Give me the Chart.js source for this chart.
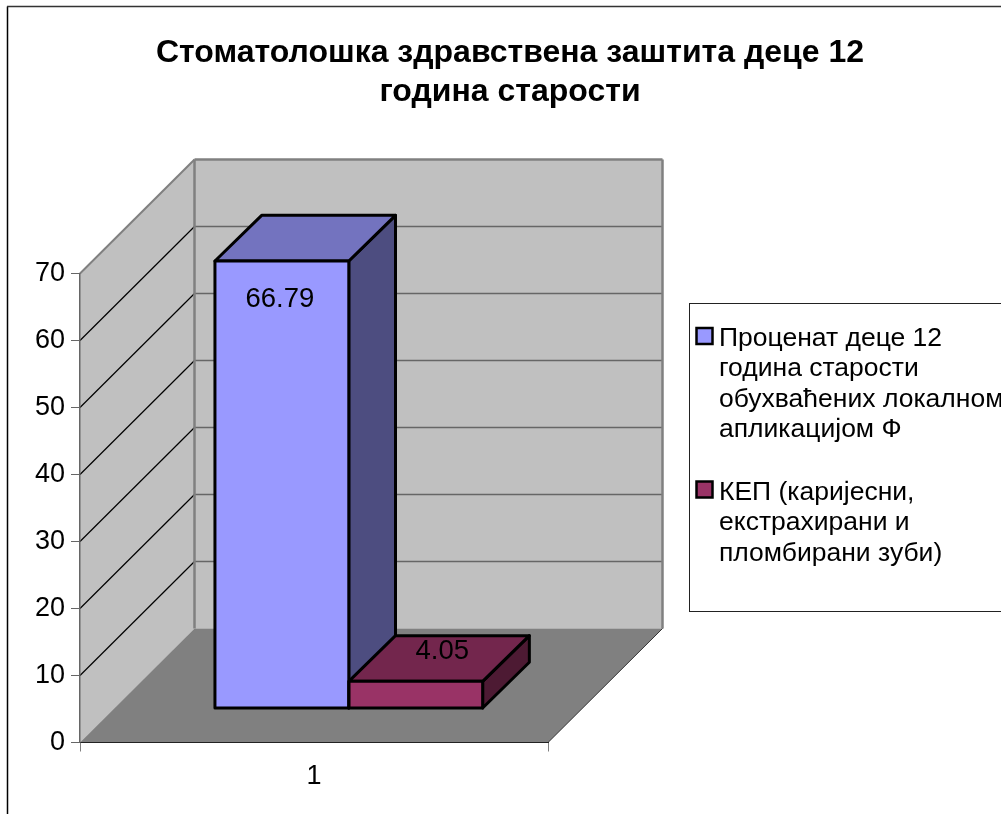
<!DOCTYPE html>
<html>
<head>
<meta charset="utf-8">
<script src="https://cdn.jsdelivr.net/npm/chart.js@4"></script>
<style>
html,body{margin:0;padding:0;background:#fff;overflow:hidden;width:1001px;height:814px}
canvas{position:absolute;left:0;top:0}
</style>
</head>
<body>
<canvas id="c" width="1020" height="830" style="width:1020px;height:830px"></canvas>
<script>
const categories = ['1'];
const titleLines = ['Стоматолошка здравствена заштита деце 12', 'година старости'];
const series1Label = ['Проценат деце 12', 'година старости', 'обухваћених локалном', 'апликацијом Ф'];
const series2Label = ['КЕП (каријесни,', 'екстрахирани и', 'пломбирани зуби)'];
const series1Values = [66.79];
const series2Values = [4.05];
const yTicks = [0, 10, 20, 30, 40, 50, 60, 70];

const FONT = '"Liberation Sans", Arial, sans-serif';
const WALL_DX = 114.5, WALL_DY = 114;   // depth of the 3D box
const BAR_SHIFT_X = 34.8, BAR_SHIFT_Y = 34; // bars stand this far inside the floor
const BAR_DEPTH_X = 46.7, BAR_DEPTH_Y = 45.7;
const faces = [
  {front:'#9999FF', top:'#7373BF', side:'#4D4D80', labelDx:-2, labelDy:38},
  {front:'#993366', top:'#73264D', side:'#4D1A33', labelDx:26.5, labelDy:-30}
];

function poly(ctx, pts, fill, stroke, lw){
  ctx.beginPath();
  pts.forEach((p,i)=> i?ctx.lineTo(p[0],p[1]):ctx.moveTo(p[0],p[1]));
  ctx.closePath();
  if(fill){ctx.fillStyle=fill;ctx.fill();}
  if(stroke){ctx.strokeStyle=stroke;ctx.lineWidth=lw;ctx.lineJoin='round';ctx.stroke();}
}
function seg(ctx,x1,y1,x2,y2,color,lw){
  ctx.beginPath();ctx.moveTo(x1,y1);ctx.lineTo(x2,y2);ctx.strokeStyle=color;ctx.lineWidth=lw;ctx.stroke();
}

const box3d = {
  id:'box3d',
  beforeDraw(chart){
    const ctx=chart.ctx, a=chart.chartArea, y=chart.scales.y;
    const L=a.left,R=a.right,B=y.getPixelForValue(0),T=y.getPixelForValue(70);
    ctx.save();
    ctx.fillStyle='#fff';ctx.fillRect(0,0,chart.width,chart.height);
    seg(ctx,7.5,6.5,7.5,chart.height,'#000',1.5);
    seg(ctx,7,6.5,chart.width,6.5,'#333',1.5);
    // walls
    poly(ctx,[[L+WALL_DX,T-WALL_DY],[R+WALL_DX,T-WALL_DY],[R+WALL_DX,B-WALL_DY],[L+WALL_DX,B-WALL_DY]],'#C0C0C0');
    poly(ctx,[[L,T],[L+WALL_DX,T-WALL_DY],[L+WALL_DX,B-WALL_DY],[L,B]],'#C0C0C0');
    poly(ctx,[[L,B],[L+WALL_DX,B-WALL_DY],[R+WALL_DX,B-WALL_DY],[R,B]],'#808080');
    // grid lines
    yTicks.slice(1,-1).forEach(v=>{
      const p=y.getPixelForValue(v);
      seg(ctx,L,p,L+WALL_DX,p-WALL_DY,'#000',1.2);
      seg(ctx,L+WALL_DX,p-WALL_DY,R+WALL_DX,p-WALL_DY,'#666',1.5);
    });
    // wall edges
    seg(ctx,L,T,L+WALL_DX,T-WALL_DY,'#808080',2);
    seg(ctx,L+WALL_DX,T-WALL_DY,R+WALL_DX,T-WALL_DY,'#808080',2.5);
    seg(ctx,L+WALL_DX,T-WALL_DY,L+WALL_DX,B-WALL_DY,'#808080',2.5);
    seg(ctx,R+WALL_DX,T-WALL_DY,R+WALL_DX,B-WALL_DY,'#808080',2.5);
    seg(ctx,R,B,R+WALL_DX,B-WALL_DY,'#333',1);
    ctx.restore();
  },
  beforeDatasetsDraw(chart){
    const ctx=chart.ctx;
    ctx.save();
    ctx.translate(BAR_SHIFT_X,-BAR_SHIFT_Y);
    chart.data.datasets.forEach((d,i)=>{
      const b=chart.getDatasetMeta(i).data[0], f=faces[i];
      const l=b.x-b.width/2,r=b.x+b.width/2,t=b.y,bt=b.base;
      const dx=BAR_DEPTH_X,dy=BAR_DEPTH_Y;
      poly(ctx,[[r,t],[r+dx,t-dy],[r+dx,bt-dy],[r,bt]],f.side,'#000',3);
      poly(ctx,[[l,t],[l+dx,t-dy],[r+dx,t-dy],[r,t]],f.top,'#000',3);
    });
  },
  afterDatasetsDraw(chart){
    const ctx=chart.ctx;
    chart.data.datasets.forEach((d,i)=>{
      const b=chart.getDatasetMeta(i).data[0], f=faces[i];
      const l=b.x-b.width/2,r=b.x+b.width/2;
      poly(ctx,[[l,b.y],[r,b.y],[r,b.base],[l,b.base]],null,'#000',3);
      ctx.fillStyle='#000';ctx.font='27.5px '+FONT;ctx.textAlign='center';ctx.textBaseline='middle';
      ctx.fillText(String(d.data[0]),b.x+f.labelDx,b.y+f.labelDy);
    });
    ctx.restore();
  },
  afterDraw(chart){
    const ctx=chart.ctx;
    ctx.save();
    // legend
    ctx.fillStyle='#fff';ctx.fillRect(689.5,303.5,400,308);
    ctx.strokeStyle='#222';ctx.lineWidth=1;ctx.strokeRect(689.5,303.5,400,308);
    const boxMid=[336,489.5], base=[346,500];
    ctx.font='26.5px '+FONT;ctx.textAlign='left';ctx.textBaseline='alphabetic';
    chart.data.datasets.forEach((d,i)=>{
      ctx.fillStyle=faces[i].front;ctx.strokeStyle='#000';ctx.lineWidth=2.5;
      ctx.fillRect(696.5,boxMid[i]-8,16,16);ctx.strokeRect(696.5,boxMid[i]-8,16,16);
      ctx.fillStyle='#000';
      d.legendLines.forEach((ln,k)=>ctx.fillText(ln,719,base[i]+k*30.3));
    });
    ctx.restore();
  }
};

new Chart(document.getElementById('c'),{
  type:'bar',
  data:{
    labels:categories,
    datasets:[
      {label:series1Label.join(' '),legendLines:series1Label,data:series1Values,backgroundColor:faces[0].front,borderWidth:0},
      {label:series2Label.join(' '),legendLines:series2Label,data:series2Values,backgroundColor:faces[1].front,borderWidth:0}
    ]
  },
  plugins:[box3d],
  options:{
    responsive:false,animation:false,
    layout:{padding:0},
    categoryPercentage:0.572,barPercentage:1,
    plugins:{
      legend:{display:false},
      tooltip:{enabled:false},
      title:{display:true,text:titleLines,color:'#000',
        font:{family:FONT,size:32,weight:'bold',lineHeight:39/32},
        padding:{top:33.5,bottom:162}}
    },
    scales:{
      x:{
        afterFit(s){s.height=87.5;},
        grid:{drawOnChartArea:false,tickLength:9,tickColor:'#808080',offset:true},
        border:{color:'#222',width:1},
        ticks:{color:'#000',font:{family:FONT,size:27},padding:9,maxRotation:0}
      },
      y:{
        min:0,max:70,
        afterFit(s){s.width=80;},
        grid:{drawOnChartArea:false,tickLength:9,tickColor:'#666'},
        border:{color:'#666',width:1.5},
        ticks:{stepSize:10,color:'#000',font:{family:FONT,size:27},padding:6}
      },
      spacer:{
        position:'right',
        afterFit(s){s.width=472;},
        grid:{display:false},
        border:{display:false},
        ticks:{display:false}
      }
    }
  }
});
</script>
</body>
</html>
